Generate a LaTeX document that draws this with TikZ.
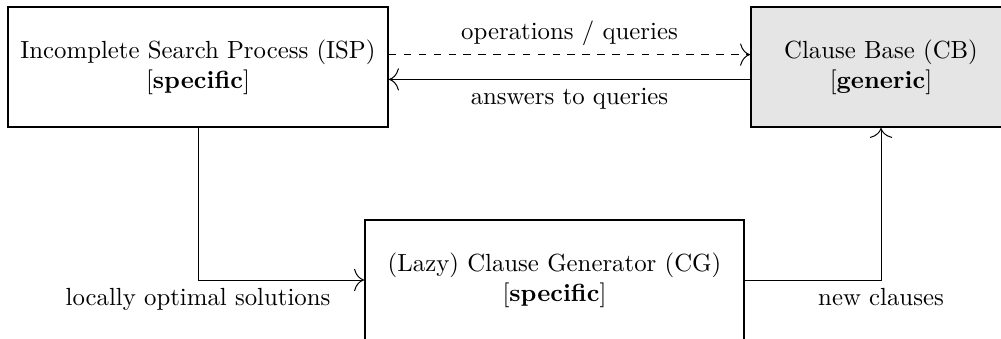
\documentclass[tikz,border=0pt]{standalone}
\usepackage{amsmath, amsfonts}
\usetikzlibrary{arrows.meta, calc}
\colorlet{box edge}{black}
\colorlet{box area}{black!10}
\tikzset{
  component/.style={draw=box edge, thick, align=center, inner sep=0pt, minimum height=48.4pt},
  basecomp/.style={component, fill=box area},
  edge/.style={-{Computer Modern Rightarrow[length=4pt, width=9pt]}},
  tedge/.style={dashed, edge},
}

\begin{document}
\begin{tikzpicture}[x=0.4034pt, y=-0.4034pt]
    \useasboundingbox (0,0) rectangle (1001,339);
    \node[component, minimum width=153.3pt] (ISP) at (198,67) {Incomplete Search Process (ISP)\\ {[}\textbf{specific}]};
    \node[basecomp, minimum width=104.9pt] (CB) at (881,67) {Clause Base (CB)\\ {[}\textbf{generic}]};
    \node[component, minimum width=152.9pt] (CG) at (554.5,280) {(Lazy) Clause Generator (CG)\\ {[}\textbf{specific}]};
    \draw[tedge] ([yshift=5pt]ISP.east) -- node[above] {operations / queries} ([yshift=5pt]CB.west);
    \draw[edge] ([yshift=-5pt]CB.west) -- node[below] {answers to queries} ([yshift=-5pt]ISP.east);
    \draw[edge] (ISP.south) |- node[below] {locally optimal solutions} (CG.west);
    \draw[edge] (CG.east) -| node[below] {new clauses} (CB.south);
  \end{tikzpicture}
\end{document}
